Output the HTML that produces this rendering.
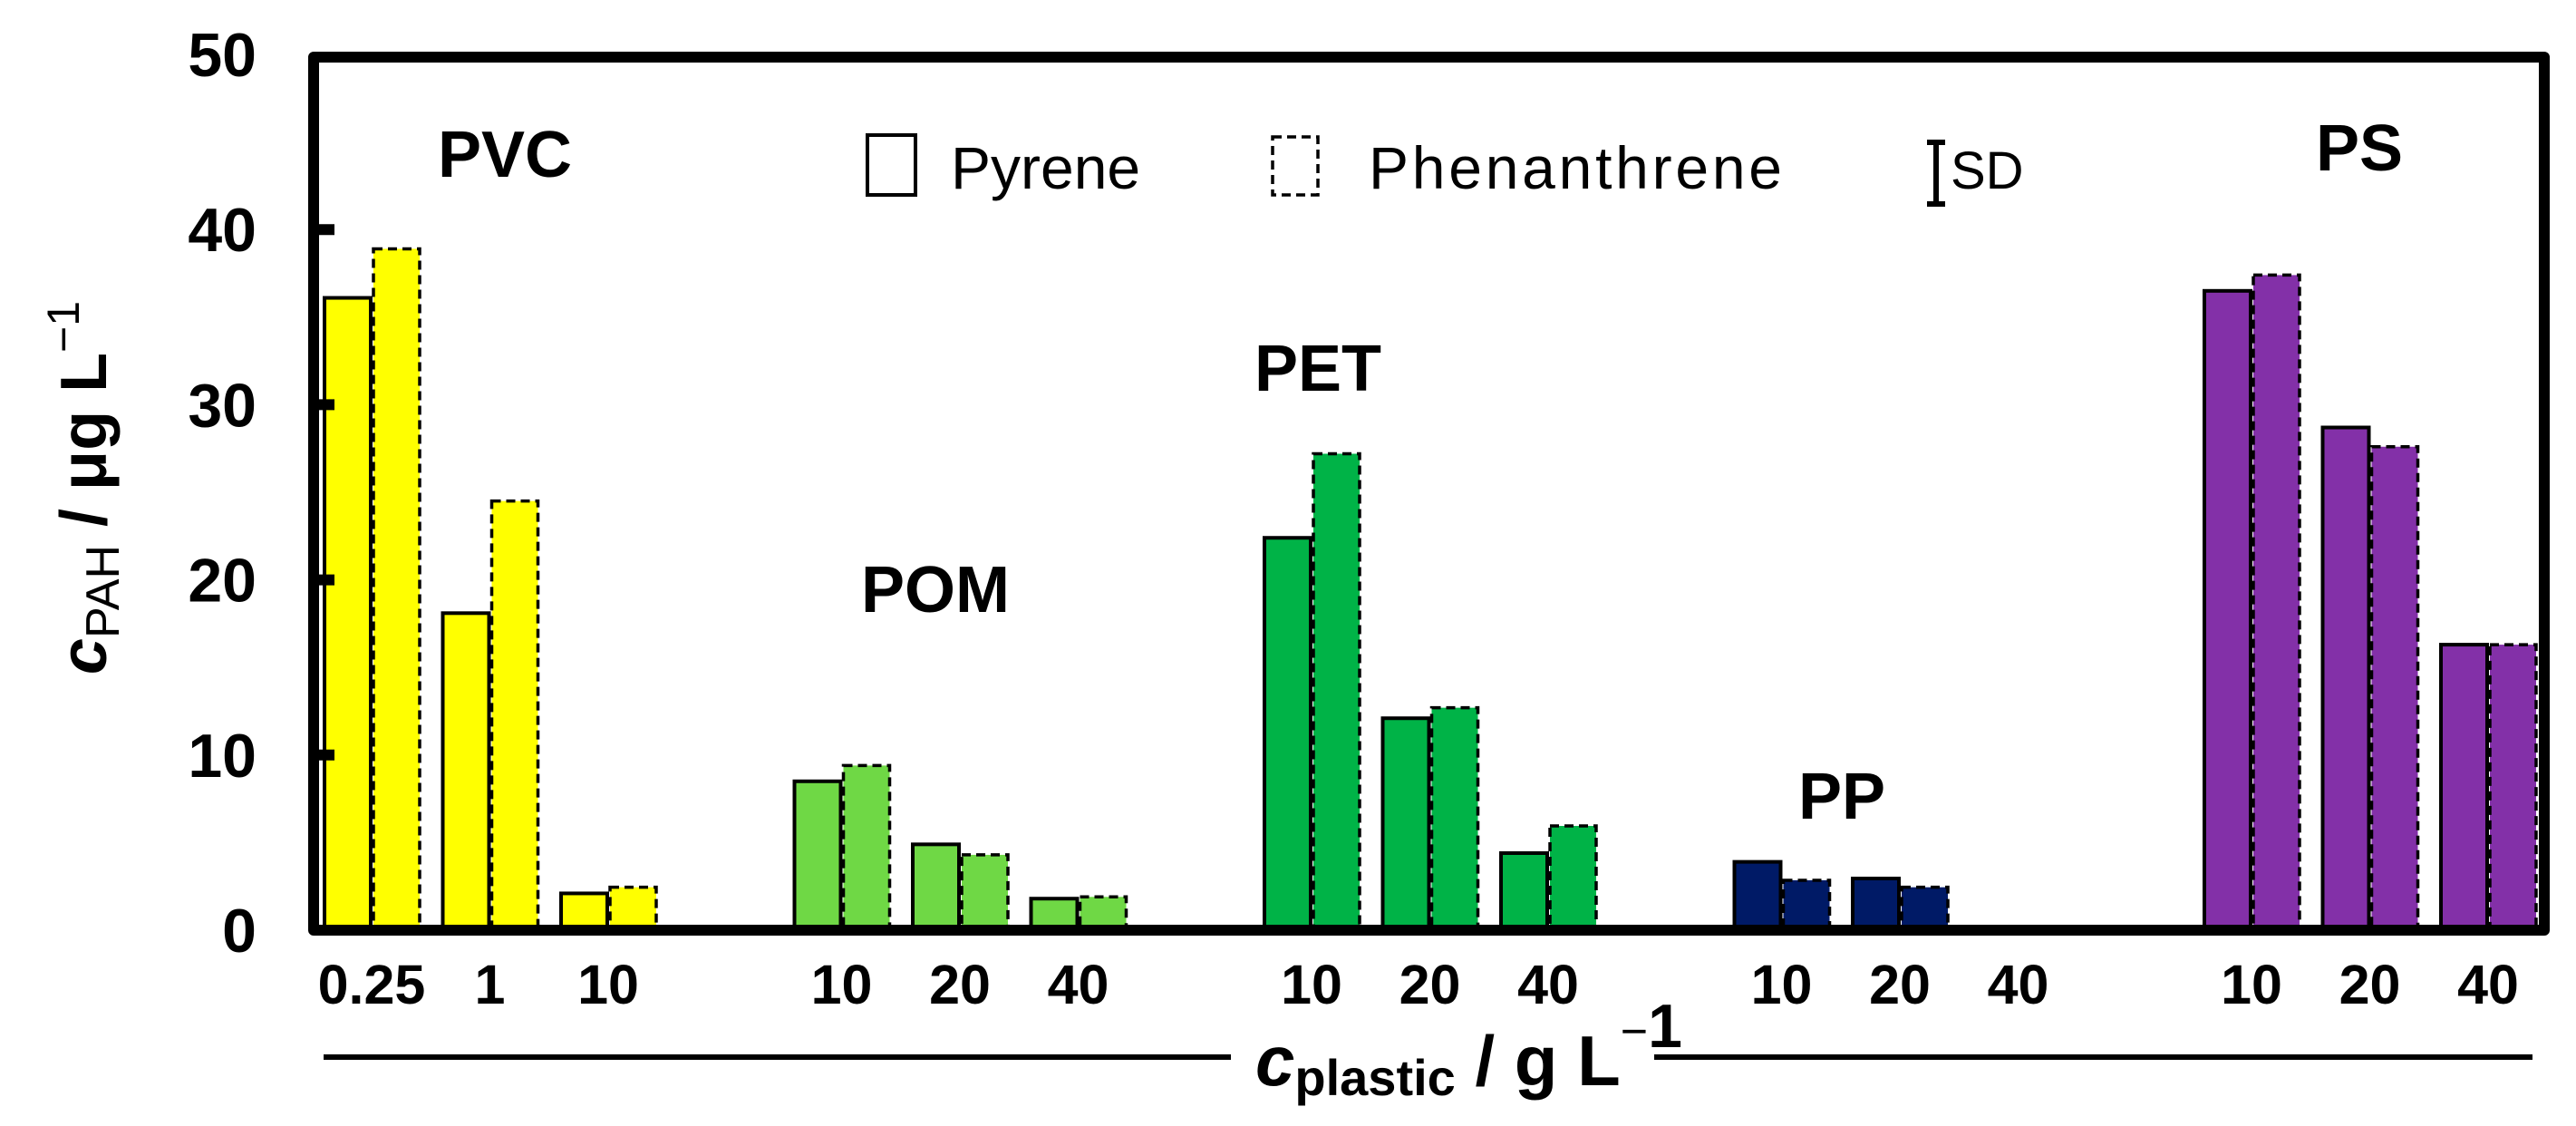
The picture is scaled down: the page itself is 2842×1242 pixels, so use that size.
<!DOCTYPE html>
<html><head><meta charset="utf-8"><style>
html,body{margin:0;padding:0;background:#fff;}
svg{display:block;font-family:"Liberation Sans",Arial,sans-serif;}
</style></head><body>
<svg id="chart" width="2842" height="1242" viewBox="0 0 2842 1242" xmlns="http://www.w3.org/2000/svg">
<rect x="0" y="0" width="2842" height="1242" fill="#fff"/>
<g id="bars"></g>
<g id="axes"></g>
<g id="labels"></g>
<g>
  <rect x="957" y="149" width="53" height="66" fill="none" stroke="#000" stroke-width="4"/>
  <text x="1049" y="208" font-size="66">Pyrene</text>
  <rect x="1404" y="151" width="50" height="64" fill="none" stroke="#000" stroke-width="3.5" stroke-dasharray="10,6"/>
  <text x="1510" y="208" font-size="66" textLength="456">Phenanthrene</text>
  <g stroke="#000" stroke-width="6">
    <line x1="2136" y1="157" x2="2136" y2="225"/>
    <line x1="2126" y1="157" x2="2146" y2="157"/>
    <line x1="2126" y1="225" x2="2146" y2="225"/>
  </g>
  <text x="2152" y="208" font-size="58">SD</text>
</g>
<text x="483" y="195" font-size="72" font-weight="bold">PVC</text>
<text x="950" y="675" font-size="72" font-weight="bold">POM</text>
<text x="1384" y="431" font-size="72" font-weight="bold">PET</text>
<text x="1984" y="903" font-size="72" font-weight="bold">PP</text>
<text x="2555" y="188" font-size="72" font-weight="bold">PS</text>
<text transform="translate(117,538) rotate(-90)" text-anchor="middle" font-size="72" font-weight="bold"><tspan font-style="italic">c</tspan><tspan font-size="52" font-weight="normal" dy="14">PAH</tspan><tspan dy="-14"> / μg L</tspan><tspan font-size="50" font-weight="normal" dy="-30">−1</tspan></text>
<line x1="357" y1="1166" x2="1358" y2="1166" stroke="#000" stroke-width="6"/>
<line x1="1825" y1="1166" x2="2794" y2="1166" stroke="#000" stroke-width="6"/>
<text x="1385" y="1197" font-size="78" font-weight="bold"><tspan font-style="italic">c</tspan><tspan font-size="56" dy="11">plastic</tspan><tspan dy="-11"> / g L</tspan><tspan font-size="52" font-weight="normal" dy="-42">−</tspan><tspan font-size="68" font-weight="bold">1</tspan></text>
</svg>
<script>
const groups = ["PVC","POM","PET","PP","PS"];
const concLabels = [["0.25","1","10"],["10","20","40"],["10","20","40"],["10","20","40"],["10","20","40"]];
const pyrene = [[36.1,18.1,2.1],[8.5,4.9,1.8],[22.4,12.1,4.4],[3.9,2.95,null],[36.5,28.7,16.3]];
const phenanthrene = [[38.9,24.5,2.45],[9.4,4.3,1.9],[27.2,12.7,5.95],[2.85,2.45,null],[37.4,27.6,16.3]];
const yTicks = [0,10,20,30,40,50];
const colors = ["#FFFF00","#6FD845","#00B347","#001A66","#8330A8"];

const NS = "http://www.w3.org/2000/svg";
const y0 = 1026, yPer = 19.32;
function yScale(v){ return y0 - v*yPer; }
function xCenter(g,k){ return 410 + g*518.5 + k*130.5; }
function mk(tag, attrs, parent){ const e=document.createElementNS(NS,tag); for(const a in attrs) e.setAttribute(a,attrs[a]); parent.appendChild(e); return e; }

const barsG = document.getElementById('bars');
const axesG = document.getElementById('axes');
const labelsG = document.getElementById('labels');
const bw = 51;
groups.forEach((gname,g)=>{
  concLabels[g].forEach((lab,k)=>{
    const c = xCenter(g,k);
    const p = pyrene[g][k], q = phenanthrene[g][k];
    if(p!=null){
      const r = mk('rect',{x:c-bw-1,y:yScale(p),width:bw,height:y0-yScale(p),fill:colors[g],stroke:'#000','stroke-width':4},barsG);
      
      
    }
    if(q!=null){
      const r = mk('rect',{x:c+2,y:yScale(q),width:bw,height:y0-yScale(q),fill:colors[g],stroke:'#000','stroke-width':3.5,'stroke-dasharray':'10,6'},barsG);
      
      
    }
    const t = mk('text',{x:c,y:1107,'text-anchor':'middle','font-size':61,'font-weight':'bold'},labelsG);
    t.textContent = lab;
    
    
  });
});
// frame
const frame = mk('path',{d:'M346 1026 L346 63 L2807 63 L2807 1026 Z',fill:'none',stroke:'#000','stroke-width':12,'stroke-linejoin':'round'},axesG);


yTicks.forEach(v=>{
  if(v>0 && v<50){
    const l = mk('line',{x1:346,y1:yScale(v),x2:369,y2:yScale(v),stroke:'#000','stroke-width':12},axesG);
    
    
  }
  const t = mk('text',{x:283,y:yScale(v)+24,'text-anchor':'end','font-size':68,'font-weight':'bold'},labelsG);
  t.textContent = v;
  
  
});
</script>
</body></html>
